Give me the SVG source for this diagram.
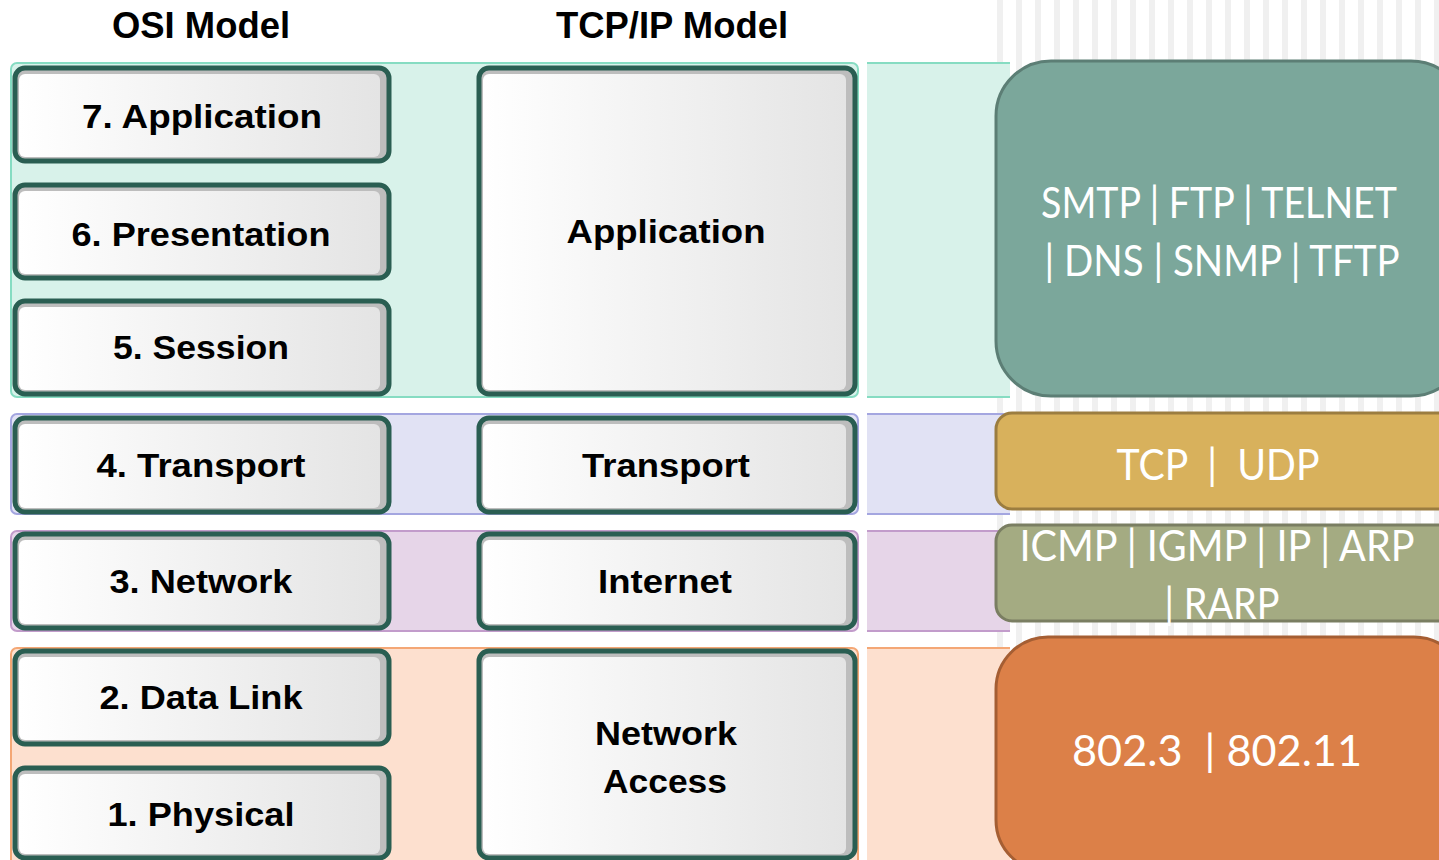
<svg xmlns="http://www.w3.org/2000/svg" width="1439" height="860" viewBox="0 0 1439 860">
<defs>
  <pattern id="stripes" x="997" y="0" width="19" height="20" patternUnits="userSpaceOnUse">
    <rect x="0" y="0" width="6" height="20" fill="#f0f0f0"/>
  </pattern>
  <linearGradient id="boxg" x1="0" y1="0" x2="1" y2="0">
    <stop offset="0" stop-color="#ffffff"/>
    <stop offset="1" stop-color="#e4e4e4"/>
  </linearGradient>
</defs>
<style>
  .box { fill: #bdbdbd; stroke: #2a5e52; stroke-width: 5; }
  .inner { fill: url(#boxg); }
  .lbl { font-family: "Liberation Sans", Arial, sans-serif; font-weight: bold; font-size: 34px; fill: #000; text-anchor: middle; }
  .hdr { font-family: "Liberation Sans", Arial, sans-serif; font-weight: bold; font-size: 36px; fill: #000; text-anchor: middle; }
  .proto { font-family: "Lato", "Open Sans", sans-serif; font-weight: 400; font-size: 42px; fill: #ffffff; text-anchor: middle; white-space: pre; }
</style>
<rect x="0" y="0" width="1439" height="860" fill="#ffffff"/>
<rect x="997" y="0" width="442" height="860" fill="url(#stripes)"/>

<g id="bands">
  <rect x="11" y="63" width="847" height="334" rx="6" fill="#d8f2ea" stroke="#86dcc2" stroke-width="2"/>
  <rect x="867" y="63" width="143" height="334" fill="#d8f2ea"/>
  <line x1="867" y1="63" x2="1010" y2="63" stroke="#86dcc2" stroke-width="2"/>
  <line x1="867" y1="397" x2="1010" y2="397" stroke="#86dcc2" stroke-width="2"/>
  <rect x="11" y="414" width="847" height="100" rx="6" fill="#e1e2f4" stroke="#a4a6e0" stroke-width="2"/>
  <rect x="867" y="414" width="143" height="100" fill="#e1e2f4"/>
  <line x1="867" y1="414" x2="1010" y2="414" stroke="#a4a6e0" stroke-width="2"/>
  <line x1="867" y1="514" x2="1010" y2="514" stroke="#a4a6e0" stroke-width="2"/>
  <rect x="11" y="531" width="847" height="100" rx="6" fill="#e6d5e8" stroke="#c29ccb" stroke-width="2"/>
  <rect x="867" y="531" width="143" height="100" fill="#e6d5e8"/>
  <line x1="867" y1="531" x2="1010" y2="531" stroke="#c29ccb" stroke-width="2"/>
  <line x1="867" y1="631" x2="1010" y2="631" stroke="#c29ccb" stroke-width="2"/>
  <rect x="11" y="648" width="847" height="230" rx="6" fill="#fde0cf" stroke="#f4a775" stroke-width="2"/>
  <rect x="867" y="648" width="143" height="212" fill="#fde0cf"/>
  <line x1="867" y1="648" x2="1010" y2="648" stroke="#f4a775" stroke-width="2"/>
</g>

<g id="headers">
  <text class="hdr" x="201" y="38" textLength="178" lengthAdjust="spacingAndGlyphs">OSI Model</text>
  <text class="hdr" x="672" y="38" textLength="232" lengthAdjust="spacingAndGlyphs">TCP/IP Model</text>
</g>

<g id="osi7"><rect class="box" x="15" y="68" width="374" height="93" rx="10"/><rect class="inner" x="19" y="74" width="361" height="83" rx="6"/><text class="lbl" x="202" y="128" textLength="240" lengthAdjust="spacingAndGlyphs">7. Application</text></g>
<g id="osi6"><rect class="box" x="15" y="185" width="374" height="93" rx="10"/><rect class="inner" x="19" y="191" width="361" height="83" rx="6"/><text class="lbl" x="201" y="246" textLength="259" lengthAdjust="spacingAndGlyphs">6. Presentation</text></g>
<g id="osi5"><rect class="box" x="15" y="301" width="374" height="93" rx="10"/><rect class="inner" x="19" y="307" width="361" height="83" rx="6"/><text class="lbl" x="201" y="359" textLength="176" lengthAdjust="spacingAndGlyphs">5. Session</text></g>
<g id="osi4"><rect class="box" x="15" y="418" width="374" height="94" rx="10"/><rect class="inner" x="19" y="424" width="361" height="84" rx="6"/><text class="lbl" x="201" y="477" textLength="209" lengthAdjust="spacingAndGlyphs">4. Transport</text></g>
<g id="osi3"><rect class="box" x="15" y="534" width="374" height="94" rx="10"/><rect class="inner" x="19" y="540" width="361" height="84" rx="6"/><text class="lbl" x="201" y="593" textLength="183" lengthAdjust="spacingAndGlyphs">3. Network</text></g>
<g id="osi2"><rect class="box" x="15" y="651" width="374" height="93" rx="10"/><rect class="inner" x="19" y="657" width="361" height="83" rx="6"/><text class="lbl" x="201" y="709" textLength="203" lengthAdjust="spacingAndGlyphs">2. Data Link</text></g>
<g id="osi1"><rect class="box" x="15" y="768" width="374" height="90" rx="10"/><rect class="inner" x="19" y="774" width="361" height="80" rx="6"/><text class="lbl" x="201" y="826" textLength="187" lengthAdjust="spacingAndGlyphs">1. Physical</text></g>

<g id="tcp-app"><rect class="box" x="479" y="68" width="376" height="326" rx="10"/><rect class="inner" x="483" y="74" width="363" height="316" rx="6"/><text class="lbl" x="666" y="243" textLength="199" lengthAdjust="spacingAndGlyphs">Application</text></g>
<g id="tcp-transport"><rect class="box" x="479" y="418" width="376" height="94" rx="10"/><rect class="inner" x="483" y="424" width="363" height="84" rx="6"/><text class="lbl" x="666" y="477" textLength="168" lengthAdjust="spacingAndGlyphs">Transport</text></g>
<g id="tcp-internet"><rect class="box" x="479" y="534" width="376" height="94" rx="10"/><rect class="inner" x="483" y="540" width="363" height="84" rx="6"/><text class="lbl" x="665" y="593" textLength="134" lengthAdjust="spacingAndGlyphs">Internet</text></g>
<g id="tcp-netaccess"><rect class="box" x="479" y="651" width="376" height="207" rx="10"/><rect class="inner" x="483" y="657" width="363" height="197" rx="6"/><text class="lbl" x="666" y="745" textLength="142" lengthAdjust="spacingAndGlyphs">Network</text><text class="lbl" x="665" y="793" textLength="124" lengthAdjust="spacingAndGlyphs">Access</text></g>

<g id="proto-app"><rect x="996" y="61" width="470" height="335" rx="55" fill="#7ba79b" stroke="#5c7e75" stroke-width="3"/><text class="proto" x="1219" y="218" textLength="356" lengthAdjust="spacingAndGlyphs">SMTP | FTP | TELNET</text><text class="proto" x="1222" y="276" textLength="355" lengthAdjust="spacingAndGlyphs">| DNS | SNMP | TFTP</text></g>
<g id="proto-transport"><rect x="996" y="413" width="470" height="96" rx="16" fill="#d8b15c" stroke="#9b7d40" stroke-width="3"/><text class="proto" x="1218" y="480" textLength="203" lengthAdjust="spacingAndGlyphs" xml:space="preserve">TCP  |  UDP</text></g>
<g id="proto-internet"><rect x="996" y="525" width="470" height="96" rx="16" fill="#a4ab82" stroke="#7a7e62" stroke-width="3"/><text class="proto" x="1217" y="561" textLength="395" lengthAdjust="spacingAndGlyphs">ICMP | IGMP | IP | ARP</text><text class="proto" x="1222" y="619" textLength="115" lengthAdjust="spacingAndGlyphs">| RARP</text></g>
<g id="proto-netaccess"><rect x="996" y="637" width="470" height="235" rx="52" fill="#dc8048" stroke="#a55e33" stroke-width="3"/><text class="proto" x="1217" y="766" textLength="290" lengthAdjust="spacingAndGlyphs" xml:space="preserve">802.3  | 802.11</text></g>

<g id="connectors"></g>
</svg>
